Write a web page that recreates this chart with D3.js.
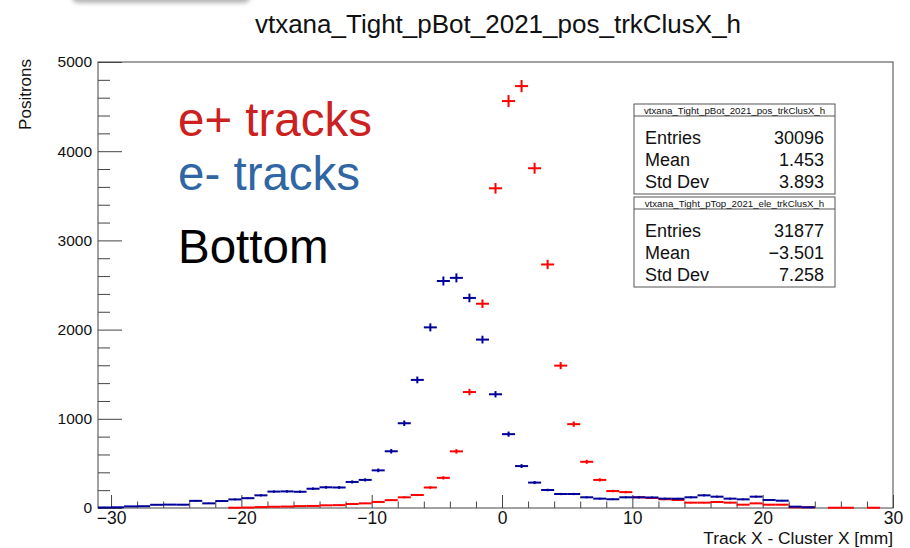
<!DOCTYPE html>
<html>
<head>
<meta charset="utf-8">
<script src="https://cdn.jsdelivr.net/npm/d3@7"></script>
<style>
  html, body { margin: 0; padding: 0; background: #fff; }
  svg text { font-family: "Liberation Sans", Arial, Helvetica, sans-serif; }
</style>
</head>
<body>
<svg id="chart" width="910" height="548"></svg>
<script>
// Bin centres of the Track X - Cluster X histograms (1 mm bins, -31 .. 30 mm)
const binCenters = [
  -30.5, -29.5, -28.5, -27.5, -26.5, -25.5, -24.5, -23.5, -22.5, -21.5,
  -20.5, -19.5, -18.5, -17.5, -16.5, -15.5, -14.5, -13.5, -12.5, -11.5,
  -10.5,  -9.5,  -8.5,  -7.5,  -6.5,  -5.5,  -4.5,  -3.5,  -2.5,  -1.5,
   -0.5,   0.5,   1.5,   2.5,   3.5,   4.5,   5.5,   6.5,   7.5,   8.5,
    9.5,  10.5,  11.5,  12.5,  13.5,  14.5,  15.5,  16.5,  17.5,  18.5,
   19.5,  20.5,  21.5,  22.5,  23.5,  24.5,  25.5,  26.5,  27.5,  28.5,
   29.5
];

// e+ tracks (bottom, positrons)
const posCounts = [
     0,    0,    0,    0,    0,    0,    0,    0,    0,    0,
     3,    5,   10,   14,   16,   21,   23,   30,   32,   45,
    52,   68,   88,  120,  146,  230,  338,  635, 1300, 2290,
  3584, 4562, 4730, 3809, 2730, 1596,  940,  518,  315,  190,
   178,  120,  112,   98,   90,   60,   60,   67,   60,   37,
    52,   37,   37,    8,    8,    0,    3,    3,    0,    3,
     0
];

// e- tracks
const eleCounts = [
     6,    8,   18,   20,   36,   38,   37,   80,   52,   78,
    96,  110,  142,  184,  186,  182,  216,  232,  230,  292,
   315,  422,  636,  950, 1436, 2025, 2545, 2580, 2355, 1888,
  1275,  828,  470,  285,  202,  157,  157,  120,  105,   98,
   120,  120,  118,  105,  104,  120,  142,  127,  105,   97,
   127,   90,   82,   15,    8,    0,    0,    0,    0,    0,
     0
];

const binWidth = 1;
const xDomain = [-31, 30];
const yDomain = [0, 5000];
const xMajorTicks = [-30, -20, -10, 0, 10, 20, 30];
const yMajorTicks = [0, 1000, 2000, 3000, 4000, 5000];

const titleText = "vtxana_Tight_pBot_2021_pos_trkClusX_h";
const xTitle = "Track X - Cluster X [mm]";
const yTitle = "Positrons";

const statBoxes = [
  { name: "vtxana_Tight_pBot_2021_pos_trkClusX_h",
    rows: [["Entries", "30096"], ["Mean", "1.453"], ["Std Dev", "3.893"]] },
  { name: "vtxana_Tight_pTop_2021_ele_trkClusX_h",
    rows: [["Entries", "31877"], ["Mean", "\u22123.501"], ["Std Dev", "7.258"]] }
];

const labels = [
  { text: "e+ tracks", color: "#cc2121" },
  { text: "e- tracks", color: "#2f66a3" },
  { text: "Bottom",    color: "#000000" }
];

// ---------------------------------------------------------------------------
const svg = d3.select("#chart");
const W = 910, H = 548;
const frame = { left: 98, right: 893, top: 62, bottom: 508 };

const x = d3.scaleLinear().domain(xDomain).range([frame.left, frame.right]);
const y = d3.scaleLinear().domain(yDomain).range([frame.bottom, frame.top]);

svg.append("rect").attr("width", W).attr("height", H).attr("fill", "#fff");

// soft shadow strip along the top edge
const defs = svg.append("defs");
defs.append("filter").attr("id", "soft").attr("x", "-20%").attr("y", "-200%")
  .attr("width", "140%").attr("height", "500%")
  .append("feGaussianBlur").attr("stdDeviation", 2.2);
svg.append("rect")
  .attr("x", 72).attr("y", -12).attr("width", 178).attr("height", 15)
  .attr("rx", 6).attr("fill", "#b5b5b5").attr("filter", "url(#soft)");

// title
svg.append("text")
  .attr("x", 498).attr("y", 33)
  .attr("text-anchor", "middle")
  .attr("font-size", 26)
  .attr("fill", "#111")
  .text(titleText);

// axes -------------------------------------------------------------------
const axisColor = "#444";
const xMinor = d3.range(xDomain[0] + 1, xDomain[1] + 0.001, 2).filter(v => !xMajorTicks.includes(v) && v >= -30);
const yMinor = d3.range(0, 5001, 200).filter(v => !yMajorTicks.includes(v));

const gx = svg.append("g").attr("transform", `translate(0,${frame.bottom})`)
  .call(d3.axisBottom(x).tickValues(xMajorTicks).tickSize(-13).tickPadding(4).tickFormat(d3.format("d")));
const gxm = svg.append("g").attr("transform", `translate(0,${frame.bottom})`)
  .call(d3.axisBottom(x).tickValues(xMinor).tickSize(-6.5).tickFormat(""));
const gy = svg.append("g").attr("transform", `translate(${frame.left},0)`)
  .call(d3.axisLeft(y).tickValues(yMajorTicks).tickSize(-24).tickPadding(6).tickFormat(d3.format("d")));
const gym = svg.append("g").attr("transform", `translate(${frame.left},0)`)
  .call(d3.axisLeft(y).tickValues(yMinor).tickSize(-12).tickFormat(""));

[gx, gxm, gy, gym].forEach(g => {
  g.select(".domain").remove();
  g.selectAll("line").attr("stroke", axisColor).attr("stroke-width", 1);
  g.selectAll("text").attr("fill", "#111")
    .attr("font-family", "'Liberation Sans', Arial, sans-serif");
});
gx.selectAll("text").attr("font-size", 17.5);
gy.selectAll("text").attr("font-size", 15.5);

// frame
svg.append("rect")
  .attr("x", frame.left).attr("y", frame.top)
  .attr("width", frame.right - frame.left).attr("height", frame.bottom - frame.top)
  .attr("fill", "none").attr("stroke", axisColor).attr("stroke-width", 1);

// axis titles
svg.append("text")
  .attr("x", frame.right).attr("y", 544)
  .attr("text-anchor", "end").attr("font-size", 17.4).attr("fill", "#111")
  .text(xTitle);
svg.append("text")
  .attr("transform", `translate(31,${frame.top - 3}) rotate(-90)`)
  .attr("text-anchor", "end").attr("font-size", 17).attr("fill", "#111")
  .text(yTitle);

// histograms drawn with horizontal bin-width bars and sqrt(N) error bars ----
function drawHist(counts, color) {
  const bins = binCenters.map((c, i) => ({ c, n: counts[i] })).filter(d => d.n > 0);
  const g = svg.append("g").attr("stroke", color).attr("stroke-width", 2);
  g.selectAll("line.h").data(bins).join("line").attr("class", "h")
    .attr("x1", d => x(d.c - binWidth / 2)).attr("x2", d => x(d.c + binWidth / 2))
    .attr("y1", d => y(d.n)).attr("y2", d => y(d.n));
  g.selectAll("line.v").data(bins).join("line").attr("class", "v")
    .attr("x1", d => x(d.c)).attr("x2", d => x(d.c))
    .attr("y1", d => y(d.n - Math.sqrt(d.n))).attr("y2", d => y(d.n + Math.sqrt(d.n)));
}
drawHist(posCounts, "#ff0000");
drawHist(eleCounts, "#000099");

// large in-plot labels
const labelY = [136, 190, 263];
labels.forEach((l, i) => {
  svg.append("text").attr("x", 178).attr("y", labelY[i])
    .attr("font-size", 47.5).attr("fill", l.color).text(l.text);
});

// statistics boxes
const boxTops = [104, 197];
statBoxes.forEach((b, i) => {
  const top = boxTops[i], left = 634, right = 835, hdr = 12, rowH = 22;
  const g = svg.append("g");
  g.append("rect").attr("x", left).attr("y", top).attr("width", right - left)
    .attr("height", hdr + rowH * 3 + 12).attr("fill", "#fff").attr("stroke", "#555");
  g.append("line").attr("x1", left).attr("x2", right).attr("y1", top + hdr).attr("y2", top + hdr)
    .attr("stroke", "#555");
  g.append("text").attr("x", (left + right) / 2).attr("y", top + hdr - 2.5)
    .attr("text-anchor", "middle").attr("font-size", 9.7).attr("fill", "#111").text(b.name);
  b.rows.forEach((r, j) => {
    const yy = top + hdr + 28 + j * rowH;
    g.append("text").attr("x", left + 11).attr("y", yy).attr("font-size", 18).attr("fill", "#111").text(r[0]);
    g.append("text").attr("x", right - 11).attr("y", yy).attr("text-anchor", "end")
      .attr("font-size", 18).attr("fill", "#111").text(r[1]);
  });
});
</script>
</body>
</html>
